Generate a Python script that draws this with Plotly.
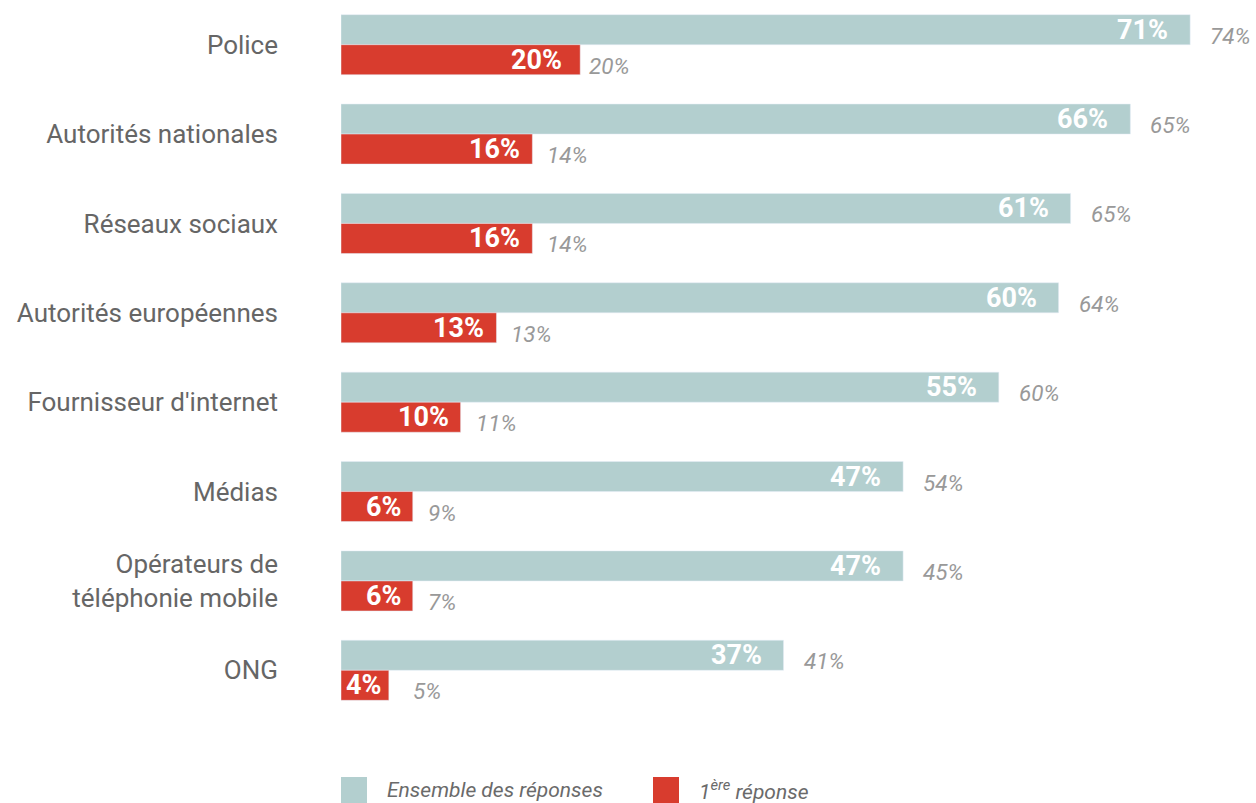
import plotly.graph_objects as go

categories = ["Police", "Autorités nationales", "Réseaux sociaux", "Autorités européennes",
              "Fournisseur d'internet", "Médias", "Opérateurs de<br>téléphonie mobile", "ONG"]
ensemble = [71, 66, 61, 60, 55, 47, 47, 37]
premiere = [20, 16, 16, 13, 10, 6, 6, 4]
ensemble_prev = [74, 65, 65, 64, 60, 54, 45, 41]
premiere_prev = [20, 14, 14, 13, 11, 9, 7, 5]

TEAL = "#b3cfcf"
RED = "#d83c2e"
W, H = 1256, 803
ML, MR, MT, MB = 341, 6, 0, 88
PW, PH = W - ML - MR, H - MT - MB
XMAX = PW / 11.96

fig = go.Figure()
fig.add_trace(go.Bar(y=categories, x=ensemble, orientation="h", marker_color=TEAL,
                     name="Ensemble des réponses", showlegend=False, hoverinfo="skip"))
fig.add_trace(go.Bar(y=categories, x=premiere, orientation="h", marker_color=RED,
                     name="1ère réponse", showlegend=False, hoverinfo="skip"))

off = 0.168
BOLD = dict(family="Roboto", size=27, color="white")
GRAY = dict(family="Roboto", size=22.5, color="#999999")
ann = []
for i, (e, p, ep, pp) in enumerate(zip(ensemble, premiere, ensemble_prev, premiere_prev)):
    # inside labels
    ann.append(dict(x=e, y=i - off, text=f"<b>{e}%</b>", xanchor="right", xshift=-20,
                    showarrow=False, font=BOLD))
    if p >= 5:
        ann.append(dict(x=p, y=i + off, text=f"<b>{p}%</b>", xanchor="right",
                        xshift=-16 if p >= 20 else -10, showarrow=False, font=BOLD))
    else:
        ann.append(dict(x=0, y=i + off, text=f"<b>{p}%</b>", xanchor="left", xshift=3,
                        showarrow=False, font=BOLD))
    # comparison labels
    ann.append(dict(x=e, y=i - off, text=f"<i>{ep}%</i>", xanchor="left", xshift=18, yshift=-6,
                    showarrow=False, font=GRAY))
    ann.append(dict(x=p, y=i + off, text=f"<i>{pp}%</i>", xanchor="left",
                    xshift=7 if p >= 20 else (22 if p < 5 else 13), yshift=-6,
                    showarrow=False, font=GRAY))

def py(pix):
    return (H - MB - pix) / PH

def px(pix):
    return (pix - ML) / PW

shapes = []
legend_items = [("Ensemble des réponses", TEAL, 341), ("1<sup>ère</sup> réponse", RED, 653)]
for label, col, x0 in legend_items:
    shapes.append(dict(type="rect", xref="paper", yref="paper", x0=px(x0), x1=px(x0 + 26),
                       y0=py(803), y1=py(777), fillcolor=col, line_width=0, layer="above"))
    ann.append(dict(xref="paper", yref="paper", x=px(x0 + 44), y=py(790), xanchor="left",
                    yanchor="middle", text=f"<i>{label}</i>", showarrow=False,
                    font=dict(family="Roboto", size=21, color="#6a6a6a")))

fig.update_layout(
    width=W, height=H, margin=dict(l=ML, r=MR, t=MT, b=MB),
    barmode="group", bargap=0.328, bargroupgap=0,
    plot_bgcolor="white", paper_bgcolor="white",
    xaxis=dict(range=[0, XMAX], visible=False, fixedrange=True),
    yaxis=dict(autorange="reversed", showgrid=False, zeroline=False, showline=False,
               ticks="", ticklabelstandoff=62, fixedrange=True,
               tickfont=dict(family="Roboto", size=26, color="#666666")),
    annotations=ann, shapes=shapes, font=dict(family="Roboto"),
)

fig.write_html("out.html", config={"displayModeBar": False},
               post_script="document.body.style.margin='0';document.body.style.overflow='hidden';")
